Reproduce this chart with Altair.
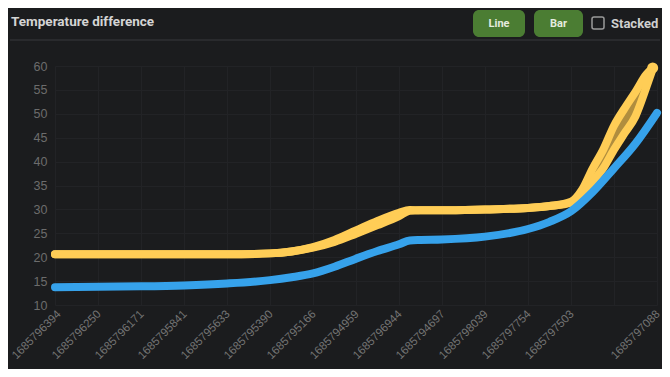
import altair as alt
import pandas as pd

# ---- data ----
tick_labels = ["1685796394", "1685796250", "1685796171", "1685795841", "1685795633",
               "1685795390", "1685795166", "1685794959", "1685796944", "1685794697",
               "1685798039", "1685797754", "1685797503", "", "1685797088"]

blue_x = [0, 1, 2, 3, 4, 5, 5.5, 6, 6.5, 7, 7.5, 8, 8.25, 8.5, 9, 10, 11, 11.5, 12, 12.5, 13, 13.5, 14]
blue_y = [13.7, 13.8, 13.9, 14.1, 14.5, 15.2, 15.8, 16.6, 18.0, 19.7, 21.3, 22.7, 23.5, 23.6, 23.7,
          24.3, 25.9, 27.4, 29.6, 33.6, 38.6, 43.8, 50.2]

yellow_x = [0, 1, 2, 3, 4, 5, 5.5, 6, 6.5, 7, 7.5, 8, 8.25, 8.5, 9, 10, 11, 11.5, 12, 12.25,
            12.5, 12.75, 13, 13.25, 13.5, 13.75, 13.9]
yellow_upper = [20.6, 20.6, 20.6, 20.6, 20.6, 20.8, 21.2, 22.1, 23.6, 25.6, 27.6, 29.3, 29.9, 29.8,
                29.8, 30.0, 30.3, 30.7, 31.6, 34.0, 38.5, 42.5, 47.5, 51.2, 54.6, 58.2, 59.6]
yellow_lower = [20.6, 20.6, 20.6, 20.6, 20.6, 20.8, 21.2, 22.0, 23.2, 24.9, 26.7, 28.6, 29.7, 29.8,
                29.8, 30.0, 30.3, 30.7, 31.4, 33.0, 35.8, 38.6, 42.5, 46.0, 49.5, 55.5, 59.4]

BG = "#1b1c1e"
GRID = "#222326"
BLUE = "#36a2eb"
YELLOW = "#ffcd56"
GOLD = "#b08d3e"
GREEN = "#4b7d33"
FONT = "Roboto"

blue_df = pd.DataFrame({"x": blue_x, "y": blue_y})
yel_df = pd.DataFrame({"x": yellow_x, "up": yellow_upper, "lo": yellow_lower})
yel_long = pd.concat([
    pd.DataFrame({"x": yellow_x, "y": yellow_upper, "path": "up"}),
    pd.DataFrame({"x": yellow_x, "y": yellow_lower, "path": "lo"}),
])
end_df = pd.DataFrame({"x": [yellow_x[-1]], "y": [yellow_upper[-1]]})

label_arr = "[" + ",".join("'%s'" % s for s in tick_labels) + "]"

xscale = alt.Scale(domain=[0, 14], nice=False, zero=False)
yscale = alt.Scale(domain=[10, 60], nice=False, zero=False)

xaxis = alt.Axis(values=list(range(15)), labelExpr=label_arr + "[datum.value]",
                 labelAngle=315, labelAlign="right", labelBaseline="middle",
                 labelPadding=7,
                 labelOffset={"condition": {"test": "datum.value == 0", "value": 4}, "value": 1},
                 labelColor="#747474", labelFont="Liberation Sans",
                 labelFontSize=11.5, labelOverlap=False, ticks=False, domain=False,
                 grid=True, gridColor=GRID, title=None)
yaxis = alt.Axis(values=list(range(10, 65, 5)), labelColor="#6c6c6c", labelFont="Liberation Sans",
                 labelFontSize=12.5, labelPadding=8, ticks=False, domain=False,
                 grid=True, gridColor=GRID, title=None)

base_x = alt.X("x:Q", scale=xscale, axis=xaxis)

area = alt.Chart(yel_df).mark_area(color=GOLD, interpolate="monotone").encode(
    x=base_x, y=alt.Y("lo:Q", scale=yscale, axis=yaxis), y2="up:Q")

yel_lines = alt.Chart(yel_long).mark_line(color=YELLOW, strokeWidth=8, strokeCap="round",
                                         strokeJoin="round", interpolate="monotone").encode(
    x=base_x, y=alt.Y("y:Q", scale=yscale, axis=yaxis), detail="path:N")

yel_end = alt.Chart(end_df).mark_circle(color=YELLOW, size=120, opacity=1).encode(
    x=base_x, y=alt.Y("y:Q", scale=yscale, axis=yaxis))

blue_line = alt.Chart(blue_df).mark_line(color=BLUE, strokeWidth=8, strokeCap="round",
                                         strokeJoin="round", interpolate="monotone").encode(
    x=base_x, y=alt.Y("y:Q", scale=yscale, axis=yaxis))

one = pd.DataFrame({"a": [0]})

title = alt.Chart(one).mark_text(text="Temperature difference", font=FONT,
                                 fontSize=13.5, fontWeight="bold", color="#d4d4d4",
                                 align="left", baseline="alphabetic").encode(
    x=alt.value(-44), y=alt.value(-40))

sep = alt.Chart(one).mark_rule(color="#38393c", strokeWidth=1).encode(
    x=alt.value(-45), x2=alt.value(605), y=alt.value(-26))

btn_line = alt.Chart(one).mark_rect(color=GREEN, cornerRadius=6).encode(
    x=alt.value(418), x2=alt.value(470), y=alt.value(-56), y2=alt.value(-29))
btn_bar = alt.Chart(one).mark_rect(color=GREEN, cornerRadius=6).encode(
    x=alt.value(479), x2=alt.value(528), y=alt.value(-56), y2=alt.value(-29))
txt_line = alt.Chart(one).mark_text(text="Line", font=FONT, fontSize=11,
                                    fontWeight="bold", color="#e4ecdf", align="center",
                                    baseline="middle").encode(x=alt.value(444), y=alt.value(-42))
txt_bar = alt.Chart(one).mark_text(text="Bar", font=FONT, fontSize=11,
                                   fontWeight="bold", color="#e4ecdf", align="center",
                                   baseline="middle").encode(x=alt.value(503.5), y=alt.value(-42))
chk = alt.Chart(one).mark_rect(fill=BG, stroke="#9a9a9a", strokeWidth=1.5, cornerRadius=2).encode(
    x=alt.value(537), x2=alt.value(549), y=alt.value(-49), y2=alt.value(-37))
txt_chk = alt.Chart(one).mark_text(text="Stacked", font=FONT, fontSize=13,
                                   fontWeight="bold", color="#cfcfcf", align="left",
                                   baseline="middle").encode(x=alt.value(556), y=alt.value(-42))

chart = alt.layer(area, yel_lines, yel_end, blue_line,
                  title, sep, btn_line, btn_bar, txt_line, txt_bar, chk, txt_chk).properties(
    width=602, height=239, background=BG,
    padding={"left": 47, "top": 58, "right": 5, "bottom": 64},
    autosize="none",
).configure_view(stroke=None)

chart.save("out.html", embed_options={"renderer": "svg", "actions": False})
